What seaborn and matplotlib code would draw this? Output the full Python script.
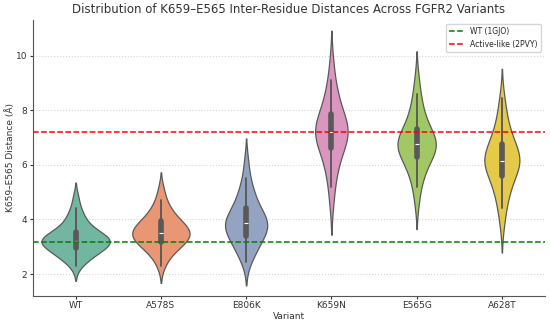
import numpy as np
import pandas as pd
import matplotlib
matplotlib.use("Agg")
import matplotlib.pyplot as plt
import seaborn as sns

# ---- data (hand-read distance samples per variant, in Angstrom) ----
variants = ["WT", "A578S", "E806K", "K659N", "E565G", "A628T"]

wt_dist = [2.3, 2.5, 2.6, 2.65, 2.7, 2.8, 2.85, 2.9, 2.95, 3.0, 3.05, 3.1, 3.12,
           3.15, 3.18, 3.2, 3.22, 3.25, 3.28, 3.3, 3.35, 3.4, 3.45, 3.5, 3.55,
           3.6, 3.7, 3.8, 3.9, 4.05, 4.2, 4.4, 4.8]
a578s_dist = [2.3, 2.6, 2.75, 2.85, 2.95, 3.05, 3.1, 3.15, 3.2, 3.25, 3.3, 3.35,
              3.4, 3.45, 3.5, 3.52, 3.55, 3.6, 3.65, 3.7, 3.75, 3.8, 3.9, 3.95,
              4.0, 4.1, 4.2, 4.35, 4.5, 4.7, 5.1]
e806k_dist = [2.45, 2.7, 2.85, 3.0, 3.1, 3.2, 3.3, 3.4, 3.5, 3.6, 3.65, 3.7,
              3.75, 3.8, 3.85, 3.9, 3.95, 4.0, 4.1, 4.2, 4.3, 4.4, 4.5, 4.65,
              4.8, 5.0, 5.2, 5.5, 6.1]
k659n_dist = [4.6, 5.2, 5.6, 5.9, 6.1, 6.3, 6.45, 6.6, 6.75, 6.85, 6.95, 7.05,
              7.1, 7.15, 7.2, 7.25, 7.3, 7.4, 7.5, 7.6, 7.7, 7.85, 7.95, 8.1,
              8.3, 8.5, 8.8, 9.1, 9.75]
e565g_dist = [4.65, 5.2, 5.5, 5.75, 5.9, 6.05, 6.15, 6.3, 6.4, 6.5, 6.6, 6.65,
              6.7, 6.72, 6.75, 6.8, 6.85, 6.9, 7.0, 7.1, 7.2, 7.3, 7.45, 7.6,
              7.8, 8.0, 8.25, 8.6, 9.15]
a628t_dist = [3.85, 4.4, 4.7, 4.95, 5.1, 5.3, 5.5, 5.6, 5.75, 5.85, 5.95, 6.0,
              6.05, 6.1, 6.15, 6.2, 6.25, 6.35, 6.45, 6.55, 6.65, 6.75, 6.85,
              7.0, 7.2, 7.4, 7.65, 8.0, 8.45]

wt_ref = 3.18       # WT crystal structure (1GJO)
active_ref = 7.21   # active-like structure (2PVY)

# ---- long-form table ----
all_dist = [wt_dist, a578s_dist, e806k_dist, k659n_dist, e565g_dist, a628t_dist]
df = pd.DataFrame({
    "Variant": [v for v, d in zip(variants, all_dist) for _ in d],
    "Distance": [x for d in all_dist for x in d],
})

# ---- plot ----
sns.set_style("ticks")
plt.rcParams["font.family"] = ["DejaVu Sans"]

fig, ax = plt.subplots(figsize=(5.5, 3.23), dpi=100)
sns.violinplot(data=df, x="Variant", y="Distance", hue="Variant", order=variants,
               palette="Set2", legend=False, inner="box", linewidth=0.9,
               cut=2, common_norm=True, ax=ax)

ax.axhline(wt_ref, color="green", linestyle="--", linewidth=1.1, label="WT (1GJO)")
ax.axhline(active_ref, color="red", linestyle="--", linewidth=1.1, label="Active-like (2PVY)")

ax.yaxis.grid(True, linestyle=":", color="#d5d5d5", linewidth=0.8)
ax.set_axisbelow(True)
sns.despine(ax=ax)
for s in ["left", "bottom"]:
    ax.spines[s].set_color("#555555")

ax.set_title("Distribution of K659\u2013E565 Inter-Residue Distances Across FGFR2 Variants",
             fontsize=8.5, color="#333333", pad=5)
ax.set_xlabel("Variant", fontsize=6.5, color="#333333", labelpad=1)
ax.set_ylabel("K659\u2013E565 Distance (\u00c5)", fontsize=6.5, color="#333333", labelpad=1)
ax.tick_params(labelsize=6.5, colors="#333333", length=2.5, pad=1.5)
ax.set_ylim(1.2, 11.3)
ax.legend(loc="upper right", fontsize=5.5, frameon=True)

fig.subplots_adjust(left=0.06, right=0.99, top=0.938, bottom=0.084)
fig.savefig("out.png", dpi=100)
